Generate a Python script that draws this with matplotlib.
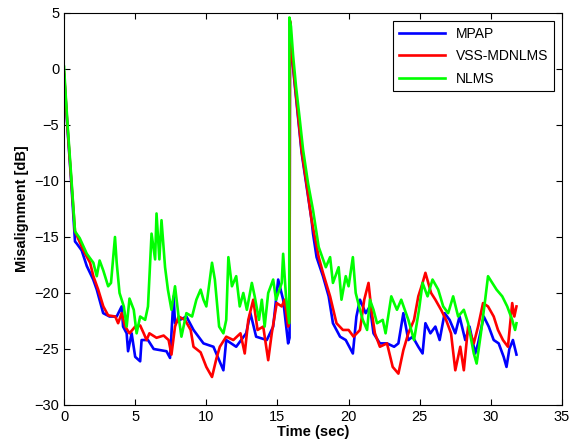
import matplotlib
matplotlib.use('Agg')
import matplotlib.pyplot as plt

# Curvas de desalineamiento
mpap_t = [0, 0.1, 0.25, 0.5, 0.77, 0.9, 1.24, 1.6, 2.05, 2.3, 2.75, 3.2, 3.7, 4.05, 4.15,
          4.4, 4.5, 4.75, 5.0, 5.35, 5.45, 5.9, 6.3, 6.75, 7.2, 7.45, 7.7, 7.8, 8.15, 8.6,
          9.1, 9.8, 10.5, 11.2, 11.4, 12.1, 12.8, 13.1, 13.5, 14.25, 14.7, 15.05, 15.4, 15.75,
          15.85, 15.88, 16.0, 16.23, 16.47, 16.7, 17.05, 17.4, 17.5, 17.75, 18.2, 18.6, 18.9,
          19.4, 19.8, 20.3, 20.55, 20.8, 21.2, 21.5, 21.75, 22.2, 22.7, 23.2, 23.5, 23.85,
          24.2, 24.5, 24.9, 25.2, 25.4, 25.75, 26.1, 26.4, 26.75, 27.1, 27.5, 27.8, 28.2,
          28.5, 28.9, 29.1, 29.5, 29.85, 30.2, 30.55, 30.9, 31.1, 31.3, 31.55, 31.8]
mpap_db = [-0.5, -2.5, -5.5, -10, -15.4, -15.6, -16.2, -17.6, -18.8, -19.7, -21.8, -22.1, -22.1,
           -21.2, -23, -23.6, -25.2, -23.6, -25.7, -26.1, -24.2, -24.2, -25, -25.1, -25.2, -25.8,
           -20.3, -22.7, -22.4, -22.1, -23.3, -24.5, -24.8, -26.9, -24.2, -24.8, -23.6, -21.8,
           -23.9, -24.2, -23.0, -18.8, -20.6, -24.5, -24.0, 4.2, 1.4, -1.6, -4.6, -7.5, -10.5,
           -13.5, -14.7, -16.8, -18.5, -20.3, -22.7, -23.9, -24.2, -25.4, -22.1, -20.6, -21.8,
           -21.2, -23.6, -24.5, -24.5, -24.8, -24.5, -21.8, -24.2, -23.9, -24.8, -25.4, -22.7,
           -23.6, -23.0, -24.2, -21.8, -22.4, -23.6, -22.1, -24.2, -23.0, -25.4, -24.5, -22.1,
           -23.0, -24.2, -24.5, -25.7, -26.6, -25.0, -24.2, -25.5]

vss_t = [0, 0.1, 0.25, 0.5, 0.77, 1.36, 1.83, 2.06, 2.4, 2.76, 3.1, 3.6, 3.8, 4.05, 4.3, 4.6,
         5.0, 5.35, 5.6, 5.8, 6.0, 6.5, 7.0, 7.35, 7.55, 7.8, 8.05, 8.5, 8.9, 9.1, 9.6, 10.0,
         10.4, 10.7, 10.95, 11.4, 11.9, 12.4, 12.7, 12.95, 13.3, 13.6, 14.0, 14.35, 14.6, 14.95,
         15.3, 15.5, 15.75, 15.85, 15.88, 16.0, 16.23, 16.47, 16.7, 17.05, 17.4, 17.9, 18.2,
         18.7, 19.15, 19.6, 20.0, 20.35, 20.8, 21.1, 21.4, 21.6, 21.85, 22.2, 22.7, 23.1, 23.5,
         23.85, 24.2, 24.6, 24.9, 25.2, 25.4, 25.8, 26.1, 26.5, 26.85, 27.2, 27.5, 27.85, 28.1,
         28.4, 28.8, 29.1, 29.45, 29.8, 30.2, 30.5, 30.85, 31.2, 31.5, 31.65, 31.8]
vss_db = [-0.3, -2.3, -5.3, -9.8, -14.5, -16.2, -17.3, -18.5, -19.7, -21.2, -22.0, -22.1, -22.7,
          -21.8, -23.0, -23.6, -23.0, -22.9, -23.6, -24.2, -23.6, -24.0, -23.8, -24.2, -25.5,
          -23.0, -22.1, -22.4, -23.3, -24.8, -25.3, -26.6, -27.5, -25.9, -24.8, -23.9, -24.2,
          -23.6, -25.4, -22.4, -20.6, -23.3, -23.0, -26.0, -23.6, -20.9, -21.2, -20.6, -23.0,
          -22.5, 4.3, 1.6, -1.4, -4.4, -7.3, -10.3, -13.5, -16.8, -18.2, -20.3, -22.7, -23.3,
          -23.3, -23.9, -23.3, -20.6, -19.1, -21.5, -23.6, -24.8, -24.5, -26.6, -27.2, -25.1,
          -23.6, -22.4, -20.3, -19.1, -18.2, -20.0, -20.6, -21.5, -22.4, -23.6, -26.9, -24.8,
          -26.9, -23.0, -24.5, -23.0, -20.9, -21.2, -22.1, -23.3, -24.2, -24.8, -20.9, -22.1,
          -21.2]

nlms_t = [0, 0.1, 0.25, 0.5, 0.77, 1.1, 1.6, 2.06, 2.3, 2.5, 2.76, 3.1, 3.3, 3.58, 3.7, 3.9,
          4.2, 4.4, 4.6, 4.9, 5.1, 5.35, 5.7, 5.9, 6.15, 6.4, 6.5, 6.7, 6.85, 7.1, 7.3, 7.55,
          7.8, 8.05, 8.25, 8.6, 9.0, 9.3, 9.6, 9.8, 10.0, 10.4, 10.6, 10.9, 11.2, 11.4, 11.55,
          11.8, 12.1, 12.35, 12.6, 12.85, 13.2, 13.4, 13.7, 13.9, 14.1, 14.35, 14.7, 14.9, 15.3,
          15.4, 15.6, 15.83, 15.84, 15.95, 16.1, 16.3, 16.55, 16.8, 17.15, 17.5, 17.9, 18.4,
          18.7, 18.9, 19.3, 19.5, 19.8, 20.0, 20.3, 20.5, 20.8, 21.0, 21.3, 21.5, 21.75, 22.0,
          22.4, 22.6, 23.0, 23.4, 23.7, 24.2, 24.6, 24.95, 25.2, 25.55, 25.9, 26.3, 26.65, 27.0,
          27.35, 27.7, 28.1, 28.4, 28.8, 29.0, 29.3, 29.6, 29.8, 30.1, 30.4, 30.8, 31.15, 31.5,
          31.7, 31.8]
nlms_db = [0.2, -2.0, -5.0, -9.5, -14.5, -15.1, -16.5, -17.3, -18.5, -17.1, -18.0, -19.4, -19.1,
           -15.0, -17.3, -20.0, -21.2, -23.0, -20.5, -21.5, -23.6, -22.1, -22.4, -21.2, -14.7,
           -17.0, -12.9, -17.0, -13.5, -17.7, -19.7, -21.5, -19.4, -22.1, -23.9, -21.8, -22.1,
           -20.6, -19.7, -20.6, -21.2, -17.3, -18.8, -23.0, -23.6, -22.4, -16.8, -19.4, -18.5,
           -21.2, -20.0, -21.5, -19.1, -20.3, -22.4, -20.6, -23.0, -20.0, -18.8, -20.6, -19.1,
           -16.5, -20.3, -22.7, 4.6, 3.8, 1.2, -1.5, -4.3, -7.2, -10.2, -12.6, -15.9, -17.7,
           -16.8, -19.1, -17.7, -20.6, -18.5, -19.4, -16.8, -20.0, -21.5, -22.4, -23.3, -20.6,
           -21.5, -22.7, -22.4, -23.6, -20.3, -21.5, -20.6, -22.4, -24.2, -21.5, -19.1, -20.3,
           -18.8, -19.7, -21.2, -21.8, -20.3, -22.1, -21.5, -22.7, -25.4, -26.3, -23.6, -20.6,
           -18.5, -19.1, -19.7, -20.3, -21.2, -22.4, -23.3, -22.7]

plt.rcParams['font.family'] = ['Liberation Sans', 'DejaVu Sans']
plt.rcParams['font.size'] = 10

fig = plt.figure(figsize=(5.77, 4.48), dpi=100)
ax = fig.add_axes([0.111, 0.096, 0.863, 0.875])
ax.plot(mpap_t, mpap_db, color=(0, 0, 1), lw=1.9, label='MPAP')
ax.plot(vss_t, vss_db, color=(1, 0, 0), lw=1.9, label='VSS-MDNLMS')
ax.plot(nlms_t, nlms_db, color=(0, 1, 0), lw=1.9, label='NLMS')

ax.set_xlim(0, 35)
ax.set_ylim(-30, 5)
ax.set_xticks(range(0, 36, 5))
ax.set_yticks(range(-30, 6, 5))
ax.tick_params(direction='in', top=True, right=True, length=4, labelsize=10.5)
ax.set_xlabel('Time (sec)', fontweight='bold', fontsize=10.5, labelpad=1)
ax.set_ylabel('Misalignment [dB]', fontweight='bold', fontsize=10.5, labelpad=4)
for s in ax.spines.values():
    s.set_linewidth(0.8)

leg = ax.legend(loc='upper right', fancybox=False, framealpha=1, edgecolor='black',
                handlelength=3.3, labelspacing=0.6, borderaxespad=0.6)
leg.get_frame().set_linewidth(0.8)

fig.savefig('out.png', dpi=100)
